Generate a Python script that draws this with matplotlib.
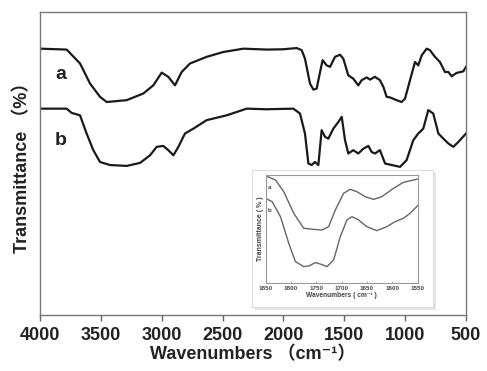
import matplotlib
matplotlib.use("Agg")
import matplotlib.pyplot as plt
from matplotlib.patches import FancyBboxPatch

plt.rcParams['font.family'] = ['Liberation Sans', 'DejaVu Sans', 'Noto Sans CJK SC']

# ---- main spectra (wavenumber, transmittance %) ----
wn_a = [4000, 3781, 3671, 3589, 3507, 3452, 3288, 3151, 3069, 3000, 2946, 2891, 2836, 2768,
        2631, 2494, 2329, 2138, 2001, 1891, 1850, 1823, 1782, 1754, 1727, 1699, 1678, 1645,
        1617, 1576, 1535, 1508, 1467, 1426, 1385, 1357, 1316, 1289, 1248, 1207, 1179, 1152,
        1124, 1070, 1029, 1001, 960, 919, 892, 864, 823, 796, 755, 714, 673, 645, 618, 577,
        522, 500]
t_a = [87.9, 87.6, 83.0, 76.4, 72.0, 70.3, 70.9, 73.1, 75.8, 80.0, 78.6, 75.8, 80.2, 83.0,
       85.2, 86.8, 87.9, 87.6, 87.7, 88.1, 87.4, 84.6, 76.4, 74.4, 74.7, 80.2, 84.1, 82.4,
       81.9, 85.2, 85.9, 84.6, 79.1, 78.0, 75.8, 77.5, 78.4, 77.7, 78.6, 77.5, 75.3, 72.0,
       71.8, 70.9, 70.3, 71.4, 77.5, 83.5, 82.4, 85.7, 87.9, 87.4, 85.2, 83.5, 80.2, 80.2,
       78.8, 79.9, 80.4, 81.9]

wn_b = [4000, 3781, 3740, 3671, 3617, 3562, 3507, 3425, 3288, 3178, 3096, 3041, 2987, 2946,
        2904, 2863, 2809, 2740, 2631, 2466, 2302, 2138, 1919, 1864, 1823, 1795, 1768, 1741,
        1713, 1686, 1658, 1631, 1590, 1549, 1521, 1494, 1467, 1426, 1385, 1343, 1302, 1275,
        1248, 1207, 1165, 1111, 1042, 988, 933, 892, 851, 810, 769, 727, 686, 645, 604, 563,
        500]
t_b = [68.1, 68.1, 66.7, 65.9, 59.9, 54.4, 50.5, 49.5, 49.2, 50.2, 52.7, 55.5, 55.8, 54.4,
       52.7, 55.5, 59.9, 61.5, 64.3, 65.9, 68.1, 67.9, 68.1, 66.5, 59.9, 50.0, 49.5, 50.5,
       49.5, 61.0, 58.8, 58.2, 61.5, 63.7, 65.4, 57.7, 53.3, 54.4, 53.3, 54.9, 55.8, 53.8,
       53.3, 54.4, 50.0, 49.5, 48.9, 51.1, 57.7, 59.9, 61.5, 67.6, 66.5, 59.9, 58.2, 56.6,
       55.5, 57.1, 59.9]

# ---- inset (1850-1550 cm-1) ----
iwn_a = [1850, 1830.3, 1814.0, 1794.3, 1774.7, 1755.0, 1738.6, 1725.5, 1712.4, 1696.1,
         1683.0, 1669.9, 1653.5, 1637.1, 1620.7, 1597.8, 1578.2, 1550]
it_a = [99.4, 95.4, 84.6, 64.6, 50.8, 49.8, 49.2, 52.3, 67.7, 83.1, 86.8, 84.6, 80.0, 77.5,
        80.0, 87.7, 93.2, 96.3]
iwn_b = [1850, 1836.9, 1820.5, 1804.1, 1791.0, 1774.7, 1764.8, 1751.7, 1741.9, 1728.8,
         1715.7, 1702.6, 1689.5, 1679.7, 1666.6, 1650.2, 1630.6, 1610.9, 1594.5, 1578.2,
         1565.1, 1550]
it_b = [78.5, 75.4, 61.5, 36.9, 20.0, 15.4, 16.0, 19.1, 17.8, 15.4, 21.5, 43.1, 58.5, 61.5,
        58.5, 52.3, 48.6, 52.3, 56.9, 60.0, 64.6, 71.7]

main_ticks = [4000, 3500, 3000, 2500, 2000, 1500, 1000, 500]
inset_ticks = [1850, 1800, 1750, 1700, 1650, 1600, 1550]

W, H = 487, 371
fig = plt.figure(figsize=(W / 100, H / 100), dpi=100)
ax = fig.add_axes([40 / W, 1 - 315 / H, 426 / W, 303 / H])
ax.plot(wn_a, t_a, color='#1a1a1a', lw=1.6)
ax.plot(wn_b, t_b, color='#1a1a1a', lw=1.6)
ax.set_xlim(4000, 500)
ax.set_ylim(0, 100)
ax.set_yticks([])
ax.set_xticks(main_ticks)
ax.set_xticklabels([str(t) for t in main_ticks], fontsize=13, fontweight='bold', color='#222')
ax.tick_params(axis='x', direction='out', length=4, width=1, color='#666', pad=5)
for s in ax.spines.values():
    s.set_color('#777')
    s.set_linewidth(1.0)
ax.text(3830, 79.5, 'a', fontsize=14, fontweight='bold', color='#222', ha='center', va='center')
ax.text(3830, 57.5, 'b', fontsize=14, fontweight='bold', color='#222', ha='center', va='center')
lab_fam = ['Liberation Sans', 'Noto Sans CJK SC', 'DejaVu Sans']
ax.set_xlabel('Wavenumbers （cm⁻¹）', fontsize=13, fontweight='bold', color='#222',
              labelpad=1, family=lab_fam)
ax.set_ylabel('Transmittance （%）', fontsize=13, fontweight='bold', color='#222',
              labelpad=6, family=lab_fam)

# inset background box with soft shadow
shadow = FancyBboxPatch((255 / W, 1 - 310 / H), 181 / W, 137 / H, boxstyle='square,pad=0',
                        transform=fig.transFigure, facecolor='#e4e4e4', edgecolor='none', zorder=3)
box = FancyBboxPatch((252 / W, 1 - 307 / H), 181 / W, 137 / H, boxstyle='square,pad=0',
                     transform=fig.transFigure, facecolor='white', edgecolor='#dcdcdc', lw=0.8, zorder=4)
fig.patches.extend([shadow, box])

iax = fig.add_axes([265.5 / W, 1 - 283.3 / H, 152.2 / W, 108.3 / H], zorder=5)
iax.plot(iwn_a, it_a, color='#666', lw=1.0)
iax.plot(iwn_b, it_b, color='#666', lw=1.0)
iax.set_xlim(1850, 1550)
iax.set_ylim(0, 100)
iax.set_yticks([])
iax.set_xticks(inset_ticks)
iax.set_xticklabels([str(t) for t in inset_ticks], fontsize=4.5, color='#444', fontweight='bold')
iax.tick_params(axis='x', direction='in', length=1.5, width=0.5, pad=2, color='#888')
for s in iax.spines.values():
    s.set_color('#999')
    s.set_linewidth(0.8)
iax.text(1842, 88, 'a', fontsize=4.5, color='#444', ha='center', va='center', fontweight='bold')
iax.text(1842, 67, 'b', fontsize=4.5, color='#444', ha='center', va='center', fontweight='bold')
iax.set_xlabel('Wavenumbers ( cm⁻¹ )', fontsize=4.8, color='#444', labelpad=0.5, fontweight='bold')
iax.set_ylabel('Transmittance ( % )', fontsize=5, color='#444', labelpad=1, fontweight='bold')

fig.savefig('out.png', dpi=100)
